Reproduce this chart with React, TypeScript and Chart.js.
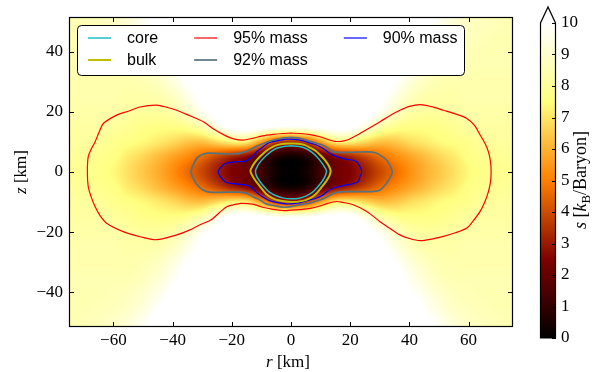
import React, { useEffect, useRef } from "react";
import { Chart, registerables } from "chart.js";

Chart.register(...registerables);

// Entropy s [k_B/baryon] on a quarter-plane grid (r >= 0, z >= 0); the map is symmetric in r and z.
const R_NODES = [0, 5, 10, 15, 20, 25, 30, 35, 40, 45, 50, 55, 60, 65, 70, 75];
const Z_NODES = [0, 5, 10, 15, 20, 25, 30, 35, 40, 45, 50];
const ENTROPY = [
  [0.05, 0.3, 1.3, 2.2, 2.5, 3.1, 3.9, 4.6, 5.3, 5.9, 6.4, 6.9, 7.4, 7.7, 7.8, 7.9],
  [0.3, 0.6, 1.6, 2.6, 3.2, 3.9, 4.6, 5.2, 5.7, 6.2, 6.7, 7.1, 7.6, 7.8, 7.9, 8.0],
  [3.4, 3.9, 5.6, 7.2, 7.3, 6.8, 6.3, 6.4, 6.8, 7.1, 7.4, 7.6, 7.8, 8.0, 8.1, 8.1],
  [9.8, 9.9, 10.2, 10.4, 10.2, 9.4, 8.4, 7.8, 7.6, 7.6, 7.7, 7.9, 8.1, 8.2, 8.2, 8.2],
  [10.6, 10.6, 10.6, 10.6, 10.6, 10.3, 9.7, 8.9, 8.3, 8.1, 8.1, 8.2, 8.3, 8.3, 8.3, 8.3],
  [10.6, 10.6, 10.6, 10.6, 10.6, 10.6, 10.2, 9.5, 8.8, 8.4, 8.3, 8.3, 8.4, 8.4, 8.4, 8.4],
  [10.6, 10.6, 10.6, 10.6, 10.6, 10.6, 10.5, 10.0, 9.3, 8.8, 8.5, 8.4, 8.4, 8.4, 8.4, 8.4],
  [10.6, 10.6, 10.6, 10.6, 10.6, 10.6, 10.6, 10.4, 9.7, 9.1, 8.7, 8.5, 8.5, 8.5, 8.5, 8.5],
  [10.6, 10.6, 10.6, 10.6, 10.6, 10.6, 10.6, 10.6, 10.1, 9.5, 9.0, 8.7, 8.6, 8.5, 8.5, 8.5],
  [10.6, 10.6, 10.6, 10.6, 10.6, 10.6, 10.6, 10.6, 10.5, 9.9, 9.3, 8.9, 8.7, 8.6, 8.5, 8.5],
  [10.6, 10.6, 10.6, 10.6, 10.6, 10.6, 10.6, 10.6, 10.6, 10.3, 9.7, 9.2, 8.9, 8.7, 8.6, 8.5],
];

// Enclosed-mass contours, [r, z] in km.
const CORE_CONTOUR = [
  [0, 8.7], [2.8, 8.5], [5, 7.8], [7, 6.6], [8.8, 5], [10.3, 3.2], [11.5, 1.4], [12, 0.3],
  [11.6, -1.2], [10.6, -3], [9, -5], [7.2, -6.8], [5, -8], [2.8, -8.7], [0, -8.9],
  [-2.8, -8.6], [-5, -7.9], [-7.3, -6.7], [-9, -5], [-10.7, -2.9], [-11.7, -1.2], [-12, 0.4],
  [-11.3, 2], [-10.1, 3.7], [-8.5, 5.3], [-6.8, 6.8], [-4.8, 7.9], [-2.8, 8.4], [0, 8.7],
];
const BULK_CONTOUR = [
  [0, 9.5], [2.5, 9.4], [4.5, 9], [6.6, 8], [8.4, 7], [10.2, 5.3], [11.8, 3.5], [13, 1.6],
  [13.4, 0.3], [13, -1.2], [11.8, -3.2], [10.2, -5.2], [8.4, -7.3], [6.3, -8.8], [4, -9.6],
  [0, -10], [-4, -9.5], [-6.3, -8.7], [-8.4, -7.3], [-10.3, -5], [-12.4, -2.3], [-13.7, 0.3],
  [-13, 2], [-11.8, 3.7], [-10.2, 5.4], [-8.4, 7], [-6.5, 8.2], [-4.5, 9], [-2.3, 9.4], [0, 9.5],
];
const MASS95_CONTOUR = [
  [0, 12.9], [3, 12.8], [6.5, 12.4], [9.8, 11.7], [12.5, 10.8], [14.8, 10.2], [17, 10.2],
  [19.5, 10.8], [23.3, 12.8], [26.5, 14.6], [30.1, 16.7], [33.5, 18.8], [36.8, 20.5], [40, 21.8],
  [43.6, 22.4], [47.5, 21.7], [51.5, 20.5], [55.5, 19.3], [59.4, 17.8], [62, 15.5], [63.9, 12.3],
  [65.6, 9.4], [66.7, 6.7], [67.4, 3.4], [67.6, 0], [67.4, -3.3], [66.7, -6.5], [65.5, -9.9],
  [63.9, -13.1], [61.5, -16.3], [59.4, -18.6], [55.5, -20.2], [51.5, -21.4], [47.5, -22.3],
  [43.6, -22.8], [40, -22.1], [36.8, -20.9], [33.5, -18.8], [30.1, -16.5], [25.6, -13.1],
  [21, -10.9], [17.5, -10.1], [15.4, -9.8], [12.5, -10.4], [9.8, -11.3], [6.5, -12.1],
  [3, -12.5], [0, -12.7], [-2.8, -12.8], [-6, -12.4], [-9.6, -11.7], [-13, -10.7],
  [-16.9, -10.4], [-19.5, -10.9], [-22, -11.7], [-27, -15.9], [-30.7, -17.5], [-34.5, -19.4],
  [-38.6, -20.9], [-45.4, -22.5], [-51, -21.5], [-56.7, -19.8], [-62.3, -17], [-64.5, -14.5],
  [-66.2, -11.5], [-67.6, -8], [-68.5, -4.9], [-68.8, 0], [-68.5, 5.1], [-67.5, 7.6],
  [-66.2, 10], [-64.8, 13.3], [-63.4, 16.1], [-58.9, 18.9], [-55, 20.2], [-51, 21.6],
  [-45.4, 22.2], [-42, 21.5], [-38.6, 20.5], [-34, 18.6], [-29.6, 16.7], [-26, 14.2],
  [-22, 12], [-19, 10.9], [-16.3, 10.6], [-13, 11.2], [-9.6, 12], [-6, 12.5], [-2.8, 12.8],
  [0, 12.9],
];
const MASS92_CONTOUR = [
  [0, 11.5], [3, 11.2], [7, 10], [10.9, 8.9], [13, 7.6], [14.3, 6.7], [16.5, 6.5], [18.8, 6.5],
  [22, 6.6], [25.6, 6.7], [28.5, 6.4], [30.1, 5.6], [32.3, 4], [33.5, 2], [34.2, 0],
  [33.5, -1.8], [32.3, -3.7], [30.1, -6], [27.5, -6.5], [25.6, -6.5], [22, -6.5], [18.8, -6.5],
  [16.5, -6.6], [14.3, -7.1], [12, -8.4], [9.8, -9.3], [6.5, -10.3], [3, -10.9], [0, -11.5],
  [-2.8, -11.7], [-5.5, -11.2], [-8.4, -10.6], [-10.5, -9.3], [-12.9, -8.2], [-15, -7.1],
  [-17.5, -6.7], [-22, -6.7], [-27.6, -6.7], [-30, -5.8], [-31.5, -4.5], [-33, -2.2],
  [-33.8, 0], [-33, 2.4], [-31.5, 4.9], [-28.7, 6.2], [-24, 6.1], [-18.6, 6], [-16, 6.6],
  [-14.1, 7.3], [-11.5, 8.6], [-8.4, 9.8], [-5.5, 10.7], [-2.8, 11.3], [0, 11.5],
];
const MASS90_CONTOUR = [
  [0, 10.9], [2.5, 10.7], [5.3, 10], [8, 9.2], [10.9, 7.8], [12.8, 6.4], [14.3, 5.6],
  [16.5, 4.8], [18.8, 4.2], [21, 3.9], [22.2, 3.4], [23.3, 1.8], [23.9, 0], [23.3, -1.6],
  [22.7, -3.2], [20.5, -4], [18.8, -4.3], [16.5, -4.8], [14.3, -5.4], [12.5, -6.3],
  [10.9, -7.6], [8, -8.9], [5.3, -9.5], [2.5, -10.3], [0, -10.6], [-1.7, -10.6],
  [-4.5, -10.2], [-7.3, -9.5], [-9.5, -8.3], [-11.3, -7.1], [-13, -5.4], [-14.6, -4.5],
  [-18, -4], [-22, -3.4], [-23.8, -1.6], [-24.6, 0], [-23.6, 1.7], [-22, 2.9], [-18.5, 3.4],
  [-15.2, 3.7], [-13, 5.2], [-11.3, 7], [-9.3, 8.5], [-7.3, 9.8], [-4.5, 10.4], [-1.7, 10.9],
  [0, 10.9],
];

const R_TICKS = [-60, -40, -20, 0, 20, 40, 60];
const Z_TICKS = [-40, -20, 0, 20, 40];
const S_TICKS = [0, 1, 2, 3, 4, 5, 6, 7, 8, 9, 10];

const R_MIN = -75;
const R_MAX = 75;
const Z_MIN = -51.5;
const Z_MAX = 51.5;
const S_MIN = 0;
const S_MAX = 10;

const SERIF = "'Liberation Serif', 'DejaVu Serif', serif";
const SANS = "'Liberation Sans', Arial, sans-serif";
const TICK_FONT = { family: SERIF, size: 17 };

function clamp01(v: number) {
  return v < 0 ? 0 : v > 1 ? 1 : v;
}

// matplotlib-style "afmhot" colour map; anything above S_MAX is white.
function afmhot(s: number): [number, number, number] {
  const t = (s - S_MIN) / (S_MAX - S_MIN);
  if (t >= 1) return [255, 255, 255];
  return [
    Math.round(255 * clamp01(2 * t)),
    Math.round(255 * clamp01(2 * t - 0.5)),
    Math.round(255 * clamp01(2 * t - 1)),
  ];
}

function gridValue(i: number, j: number) {
  const ni = R_NODES.length - 1;
  const nj = Z_NODES.length - 1;
  const ii = i < 0 ? -i : i > ni ? ni : i;
  const jj = j < 0 ? -j : j > nj ? nj : j;
  return ENTROPY[jj][ii];
}

function catmull(p0: number, p1: number, p2: number, p3: number, t: number) {
  return 0.5 * (2 * p1 + (-p0 + p2) * t + (2 * p0 - 5 * p1 + 4 * p2 - p3) * t * t + (-p0 + 3 * p1 - 3 * p2 + p3) * t * t * t);
}

// Smooth (bicubic) sampling of the grid, mirrored about both axes.
function entropyAt(r: number, z: number) {
  const a = Math.min(Math.abs(r), R_NODES[R_NODES.length - 1]);
  const b = Math.min(Math.abs(z), Z_NODES[Z_NODES.length - 1]);
  let i = 0;
  while (i < R_NODES.length - 2 && a > R_NODES[i + 1]) i++;
  let j = 0;
  while (j < Z_NODES.length - 2 && b > Z_NODES[j + 1]) j++;
  const tx = (a - R_NODES[i]) / (R_NODES[i + 1] - R_NODES[i]);
  const ty = (b - Z_NODES[j]) / (Z_NODES[j + 1] - Z_NODES[j]);
  const rows: number[] = [];
  for (let k = -1; k <= 2; k++) {
    rows.push(
      catmull(gridValue(i - 1, j + k), gridValue(i, j + k), gridValue(i + 1, j + k), gridValue(i + 2, j + k), tx)
    );
  }
  return catmull(rows[0], rows[1], rows[2], rows[3], ty);
}

function fmtTick(v: number) {
  return v < 0 ? "\u2212" + Math.abs(v) : String(v);
}

const entropyFieldPlugin = {
  id: "entropyField",
  beforeDatasetsDraw(chart: any) {
    const { ctx, chartArea, scales } = chart;
    const left = Math.round(chartArea.left);
    const top = Math.round(chartArea.top);
    const w = Math.round(chartArea.right) - left;
    const h = Math.round(chartArea.bottom) - top;
    const off = document.createElement("canvas");
    off.width = w;
    off.height = h;
    const octx = off.getContext("2d")!;
    const img = octx.createImageData(w, h);
    for (let py = 0; py < h; py++) {
      const z = scales.y.getValueForPixel(top + py + 0.5);
      for (let px = 0; px < w; px++) {
        const r = scales.x.getValueForPixel(left + px + 0.5);
        const [cr, cg, cb] = afmhot(entropyAt(r, z));
        const k = (py * w + px) * 4;
        img.data[k] = cr;
        img.data[k + 1] = cg;
        img.data[k + 2] = cb;
        img.data[k + 3] = 255;
      }
    }
    octx.putImageData(img, 0, 0);
    ctx.save();
    ctx.drawImage(off, left, top);
    ctx.restore();
  },
};

// Frame with inward ticks on all four sides.
const framePlugin = {
  id: "frame",
  afterDatasetsDraw(chart: any) {
    const { ctx, chartArea, scales } = chart;
    const { left, right, top, bottom } = chartArea;
    const len = 5;
    ctx.save();
    ctx.strokeStyle = "#000";
    ctx.lineWidth = 1;
    ctx.beginPath();
    for (const v of R_TICKS) {
      const x = Math.round(scales.x.getPixelForValue(v)) + 0.5;
      ctx.moveTo(x, bottom);
      ctx.lineTo(x, bottom - len);
      ctx.moveTo(x, top);
      ctx.lineTo(x, top + len);
    }
    for (const v of Z_TICKS) {
      const y = Math.round(scales.y.getPixelForValue(v)) + 0.5;
      ctx.moveTo(left, y);
      ctx.lineTo(left + len, y);
      ctx.moveTo(right, y);
      ctx.lineTo(right - len, y);
    }
    ctx.stroke();
    ctx.lineWidth = 1.2;
    ctx.strokeRect(left + 0.5, top + 0.5, right - left - 1, bottom - top - 1);
    ctx.restore();
  },
};

function drawMixed(ctx: CanvasRenderingContext2D, parts: { text: string; font: string; dy?: number }[], cx: number, cy: number, angle: number) {
  ctx.save();
  ctx.translate(cx, cy);
  ctx.rotate(angle);
  ctx.fillStyle = "#000";
  ctx.textBaseline = "alphabetic";
  ctx.textAlign = "left";
  let total = 0;
  for (const p of parts) {
    ctx.font = p.font;
    total += ctx.measureText(p.text).width;
  }
  let x = -total / 2;
  for (const p of parts) {
    ctx.font = p.font;
    ctx.fillText(p.text, x, 6 + (p.dy || 0));
    x += ctx.measureText(p.text).width;
  }
  ctx.restore();
}

const axisTitlePlugin = {
  id: "axisTitles",
  afterDraw(chart: any) {
    const { ctx, chartArea } = chart;
    const cx = (chartArea.left + chartArea.right) / 2 - 3;
    drawMixed(ctx, [
      { text: "r", font: `italic 17px ${SERIF}` },
      { text: " [km]", font: `17px ${SERIF}` },
    ], cx, 361, 0);
    const cy = (chartArea.top + chartArea.bottom) / 2;
    drawMixed(ctx, [
      { text: "z", font: `italic 17px ${SERIF}` },
      { text: " [km]", font: `17px ${SERIF}` },
    ], 20, cy, -Math.PI / 2);
  },
};

// Legend laid out column by column (three columns, two rows).
const legendPlugin = {
  id: "massLegend",
  afterDraw(chart: any) {
    const { ctx } = chart;
    const sets = chart.data.datasets;
    const boxLeft = 77.5;
    const boxTop = 25.5;
    const boxBottom = 75.5;
    const rowY = [38, 60];
    const lineLen = 23;
    const textGap = 16;
    const colGap = 36;
    ctx.save();
    ctx.font = `16px ${SANS}`;
    const nCols = Math.ceil(sets.length / 2);
    const colX: number[] = [];
    let x = 88;
    let lastEnd = x;
    for (let c = 0; c < nCols; c++) {
      colX.push(x);
      let maxW = 0;
      for (let rr = 0; rr < 2; rr++) {
        const d = sets[c * 2 + rr];
        if (d) maxW = Math.max(maxW, ctx.measureText(d.label).width);
      }
      lastEnd = x + lineLen + textGap + maxW;
      x = lastEnd + colGap;
    }
    const boxRight = Math.round(lastEnd + 6) + 0.5;
    const rad = 4;
    ctx.beginPath();
    ctx.moveTo(boxLeft + rad, boxTop);
    ctx.lineTo(boxRight - rad, boxTop);
    ctx.arcTo(boxRight, boxTop, boxRight, boxTop + rad, rad);
    ctx.lineTo(boxRight, boxBottom - rad);
    ctx.arcTo(boxRight, boxBottom, boxRight - rad, boxBottom, rad);
    ctx.lineTo(boxLeft + rad, boxBottom);
    ctx.arcTo(boxLeft, boxBottom, boxLeft, boxBottom - rad, rad);
    ctx.lineTo(boxLeft, boxTop + rad);
    ctx.arcTo(boxLeft, boxTop, boxLeft + rad, boxTop, rad);
    ctx.closePath();
    ctx.fillStyle = "#fff";
    ctx.fill();
    ctx.strokeStyle = "#000";
    ctx.lineWidth = 1;
    ctx.stroke();
    sets.forEach((d: any, idx: number) => {
      const c = Math.floor(idx / 2);
      const y = rowY[idx % 2];
      const x0 = colX[c];
      ctx.strokeStyle = d.borderColor;
      ctx.lineWidth = d.borderWidth;
      ctx.beginPath();
      ctx.moveTo(x0, y);
      ctx.lineTo(x0 + lineLen, y);
      ctx.stroke();
      ctx.fillStyle = "#000";
      ctx.textBaseline = "middle";
      ctx.textAlign = "left";
      ctx.fillText(d.label, x0 + lineLen + textGap, y + 1);
    });
    ctx.restore();
  },
};

const colorbarPlugin = {
  id: "colorbar",
  beforeDatasetsDraw(chart: any) {
    const { ctx, chartArea, scales } = chart;
    const left = Math.round(chartArea.left);
    const right = Math.round(chartArea.right);
    const top = Math.round(chartArea.top);
    const bottom = Math.round(chartArea.bottom);
    const mid = (left + right) / 2;
    const tip = 16;
    ctx.save();
    for (let py = top; py < bottom; py++) {
      const s = scales.y.getValueForPixel(py + 0.5);
      const [r, g, b] = afmhot(s);
      ctx.fillStyle = `rgb(${r},${g},${b})`;
      ctx.fillRect(left, py, right - left, 1);
    }
    ctx.beginPath();
    ctx.moveTo(left, top);
    ctx.lineTo(mid, top - tip);
    ctx.lineTo(right, top);
    ctx.closePath();
    const [er, eg, eb] = afmhot(S_MAX + 1);
    ctx.fillStyle = `rgb(${er},${eg},${eb})`;
    ctx.fill();
    ctx.strokeStyle = "#000";
    ctx.lineWidth = 1;
    ctx.beginPath();
    for (const v of S_TICKS) {
      const y = Math.round(scales.y.getPixelForValue(v)) + 0.5;
      ctx.moveTo(right, y);
      ctx.lineTo(right - 4, y);
    }
    ctx.stroke();
    ctx.lineWidth = 1.2;
    ctx.beginPath();
    ctx.moveTo(left + 0.5, bottom);
    ctx.lineTo(left + 0.5, top);
    ctx.lineTo(mid, top - tip);
    ctx.lineTo(right - 0.5, top);
    ctx.lineTo(right - 0.5, bottom);
    ctx.closePath();
    ctx.stroke();
    drawMixed(ctx, [
      { text: "s", font: `italic 18px ${SERIF}` },
      { text: " [", font: `18px ${SERIF}` },
      { text: "k", font: `italic 18px ${SERIF}` },
      { text: "B", font: `13px ${SERIF}`, dy: 4 },
      { text: "/Baryon]", font: `18px ${SERIF}` },
    ], 50, 180, -Math.PI / 2);
    ctx.restore();
  },
};

function toPoints(list: number[][]) {
  return list.map(([x, y]) => ({ x, y }));
}

export default function App() {
  const mainRef = useRef<HTMLCanvasElement>(null);
  const barRef = useRef<HTMLCanvasElement>(null);

  useEffect(() => {
    const contour = (label: string, pts: number[][], color: string, width: number) => ({
      label,
      data: toPoints(pts),
      showLine: true,
      borderColor: color,
      backgroundColor: color,
      borderWidth: width,
      pointRadius: 0,
      tension: 0.3,
      fill: false,
    });

    const main = new Chart(mainRef.current!, {
      type: "scatter",
      data: {
        datasets: [
          contour("core", CORE_CONTOUR, "#1fbfbf", 1.5),
          contour("bulk", BULK_CONTOUR, "#bfbf00", 2),
          contour("95% mass", MASS95_CONTOUR, "#ff0000", 1.2),
          contour("92% mass", MASS92_CONTOUR, "#56727c", 1.7),
          contour("90% mass", MASS90_CONTOUR, "#0000ff", 1.2),
        ],
      },
      options: {
        animation: false,
        responsive: false,
        maintainAspectRatio: false,
        layout: { padding: { top: 17, right: 17, left: 0, bottom: 0 } },
        plugins: { legend: { display: false }, tooltip: { enabled: false } },
        scales: {
          x: {
            type: "linear",
            min: R_MIN,
            max: R_MAX,
            grid: { display: false, drawTicks: false },
            border: { display: false },
            afterBuildTicks: (s: any) => {
              s.ticks = R_TICKS.map((v) => ({ value: v }));
            },
            afterFit: (s: any) => {
              s.height = 45;
            },
            ticks: { font: TICK_FONT, color: "#000", padding: 3, maxRotation: 0, autoSkip: false, callback: (v: any) => fmtTick(Number(v)) },
          },
          y: {
            type: "linear",
            min: Z_MIN,
            max: Z_MAX,
            grid: { display: false, drawTicks: false },
            border: { display: false },
            afterBuildTicks: (s: any) => {
              s.ticks = Z_TICKS.map((v) => ({ value: v }));
            },
            afterFit: (s: any) => {
              s.width = 69;
            },
            ticks: { font: TICK_FONT, color: "#000", padding: 6, autoSkip: false, callback: (v: any) => fmtTick(Number(v)) },
          },
        },
      },
      plugins: [entropyFieldPlugin, framePlugin, axisTitlePlugin, legendPlugin],
    } as any);

    const bar = new Chart(barRef.current!, {
      type: "scatter",
      data: { datasets: [] },
      options: {
        animation: false,
        responsive: false,
        maintainAspectRatio: false,
        layout: { padding: { top: 23, bottom: 34, left: 10, right: 0 } },
        plugins: { legend: { display: false }, tooltip: { enabled: false } },
        scales: {
          x: { type: "linear", display: false, min: 0, max: 1 },
          y: {
            type: "linear",
            position: "right",
            min: S_MIN,
            max: S_MAX,
            grid: { display: false, drawTicks: false },
            border: { display: false },
            afterBuildTicks: (s: any) => {
              s.ticks = S_TICKS.map((v) => ({ value: v }));
            },
            afterFit: (s: any) => {
              s.width = 44;
            },
            ticks: { font: TICK_FONT, color: "#000", padding: 5, autoSkip: false },
          },
        },
      },
      plugins: [colorbarPlugin],
    } as any);

    return () => {
      main.destroy();
      bar.destroy();
    };
  }, []);

  return (
    <div style={{ position: "fixed", left: 0, top: 0, width: 600, height: 372, background: "#fff" }}>
      <canvas ref={mainRef} width={530} height={372} style={{ position: "absolute", left: 0, top: 0, width: 530, height: 372 }} />
      <canvas ref={barRef} width={70} height={372} style={{ position: "absolute", left: 530, top: 0, width: 70, height: 372 }} />
    </div>
  );
}
